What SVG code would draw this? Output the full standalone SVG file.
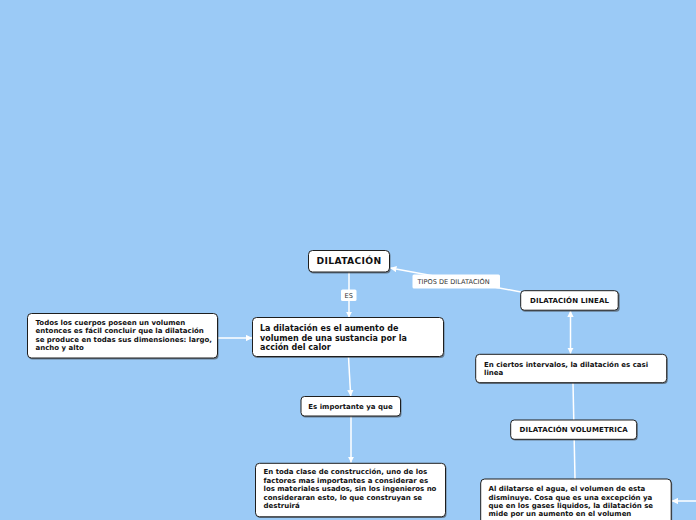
<svg xmlns="http://www.w3.org/2000/svg" width="696" height="520" viewBox="0 0 696 520">
<defs>
<marker id="ah" viewBox="0 0 10 10" refX="9.5" refY="5" markerWidth="4.2" markerHeight="4.2" orient="auto-start-reverse" markerUnits="strokeWidth">
<path d="M0,0 L10,5 L0,10 z" fill="#ffffff"/>
</marker>
</defs>
<style>
.bg{fill:#9bcaf6}
.sh{fill:#3a3a3a;opacity:.55}
.box{fill:#ffffff;stroke:#1e1e1e;stroke-width:1}
.c{stroke:#ffffff;stroke-width:1.5;fill:none}
.t{font-family:"DejaVu Sans","Verdana",sans-serif;font-weight:bold;fill:#111111}
.s7{font-size:7px}
.s8{font-size:8px}
.s9{font-size:9.2px;letter-spacing:0.35px}
.cap{letter-spacing:0.12px}
.lb{fill:#ffffff}
.lt{font-family:"DejaVu Sans","Verdana",sans-serif;font-size:6.6px;fill:#333333}
</style>
<rect class="bg" x="0" y="0" width="696" height="520"/>
<g id="connectors">
<line class="c" x1="349" y1="272" x2="349" y2="317.5" marker-end="url(#ah)"/>
<line class="c" x1="521" y1="292" x2="390.5" y2="268" marker-end="url(#ah)"/>
<line class="c" x1="570.5" y1="311" x2="570.5" y2="353.5" marker-start="url(#ah)" marker-end="url(#ah)"/>
<line class="c" x1="573" y1="383" x2="575" y2="479"/>
<line class="c" x1="218" y1="338" x2="252" y2="338" marker-end="url(#ah)"/>
<line class="c" x1="348.5" y1="357" x2="350.7" y2="396" marker-end="url(#ah)"/>
<line class="c" x1="351" y1="416" x2="351" y2="462.5" marker-end="url(#ah)"/>
<line class="c" x1="700" y1="501" x2="672" y2="501" marker-end="url(#ah)"/>
<g id="label-es">
<rect class="lb" x="341" y="289.5" width="15.5" height="11.5" rx="1.5"/>
<text class="lt" x="348.7" y="297.6" text-anchor="middle">ES</text>
</g>
<g id="label-tipos">
<rect class="lb" x="412.5" y="274.5" width="87.5" height="14" rx="1.5"/>
<text class="lt" x="417.5" y="284">TIPOS DE DILATACIÓN</text>
</g>
</g>
<g id="n-dilatacion">
<rect class="sh" x="309.5" y="251.5" width="81" height="22" rx="4"/>
<rect class="box" x="308.5" y="250.5" width="81" height="21.5" rx="4"/>
<text class="t s9" x="349" y="264.3" text-anchor="middle">DILATACIÓN</text>
</g>
<g id="n-todos">
<rect class="sh" x="28.5" y="315" width="190" height="44.5" rx="4"/>
<rect class="box" x="27.5" y="313.5" width="190" height="44.5" rx="4"/>
<text class="t s7"><tspan x="35.5" y="324.5">Todos los cuerpos poseen un volumen</tspan><tspan x="35.5" y="333">entonces es fácil concluir que la dilatación</tspan><tspan x="35.5" y="341.5">se produce en todas sus dimensiones: largo,</tspan><tspan x="35.5" y="350">ancho y alto</tspan></text>
</g>
<g id="n-ladilatacion">
<rect class="sh" x="253.5" y="319" width="191" height="39" rx="4"/>
<rect class="box" x="252.5" y="317.5" width="191" height="39" rx="4"/>
<text class="t s8"><tspan x="260" y="331">La dilatación es el aumento de</tspan><tspan x="260" y="340.5">volumen de una sustancia por la</tspan><tspan x="260" y="350">acción del calor</tspan></text>
</g>
<g id="n-esimportante">
<rect class="sh" x="302" y="397.5" width="99.5" height="20" rx="3.5"/>
<rect class="box" x="301" y="396.5" width="99.5" height="19.5" rx="3.5"/>
<text class="t s7" x="350.5" y="409.3" text-anchor="middle">Es importante ya que</text>
</g>
<g id="n-entoda">
<rect class="sh" x="256.5" y="464.5" width="190" height="53.5" rx="4"/>
<rect class="box" x="255.5" y="463.3" width="190" height="53.5" rx="4"/>
<text class="t s7"><tspan x="263.5" y="474.3">En toda clase de construcción, uno de los</tspan><tspan x="263.5" y="482.8">factores mas importantes a considerar es</tspan><tspan x="263.5" y="491.3">los materiales usados, sin los ingenieros no</tspan><tspan x="263.5" y="499.8">consideraran esto, lo que construyan se</tspan><tspan x="263.5" y="508.3">destruirá</tspan></text>
</g>
<g id="n-lineal">
<rect class="sh" x="521.7" y="291.7" width="98" height="20" rx="3.5"/>
<rect class="box" x="520.7" y="290.7" width="97.5" height="19.5" rx="3.5"/>
<text class="t s7 cap" x="569.5" y="302.8" text-anchor="middle">DILATACIÓN LINEAL</text>
</g>
<g id="n-enciertos">
<rect class="sh" x="476.7" y="355.5" width="191" height="28.5" rx="4"/>
<rect class="box" x="475.7" y="354.3" width="191" height="28.4" rx="4"/>
<text class="t s7"><tspan x="484" y="366.8">En ciertos intervalos, la dilatación es casi</tspan><tspan x="484" y="375.3">linea</tspan></text>
</g>
<g id="n-volumetrica">
<rect class="sh" x="511.7" y="421" width="126" height="19.5" rx="3.5"/>
<rect class="box" x="510.7" y="420" width="126" height="19.3" rx="3.5"/>
<text class="t s7 cap" x="573.7" y="431.8" text-anchor="middle">DILATACIÓN VOLUMETRICA</text>
</g>
<g id="n-aldilatarse">
<rect class="sh" x="481.7" y="480.3" width="190.5" height="55" rx="4"/>
<rect class="box" x="480.7" y="479" width="190.5" height="55" rx="4"/>
<text class="t s7"><tspan x="488.5" y="491.2">Al dilatarse el agua, el volumen de esta</tspan><tspan x="488.5" y="499.6">disminuye. Cosa que es una excepción ya</tspan><tspan x="488.5" y="508">que en los gases liquidos, la dilatación se</tspan><tspan x="488.5" y="516.4">mide por un aumento en el volumen</tspan></text>
</g>
</svg>
